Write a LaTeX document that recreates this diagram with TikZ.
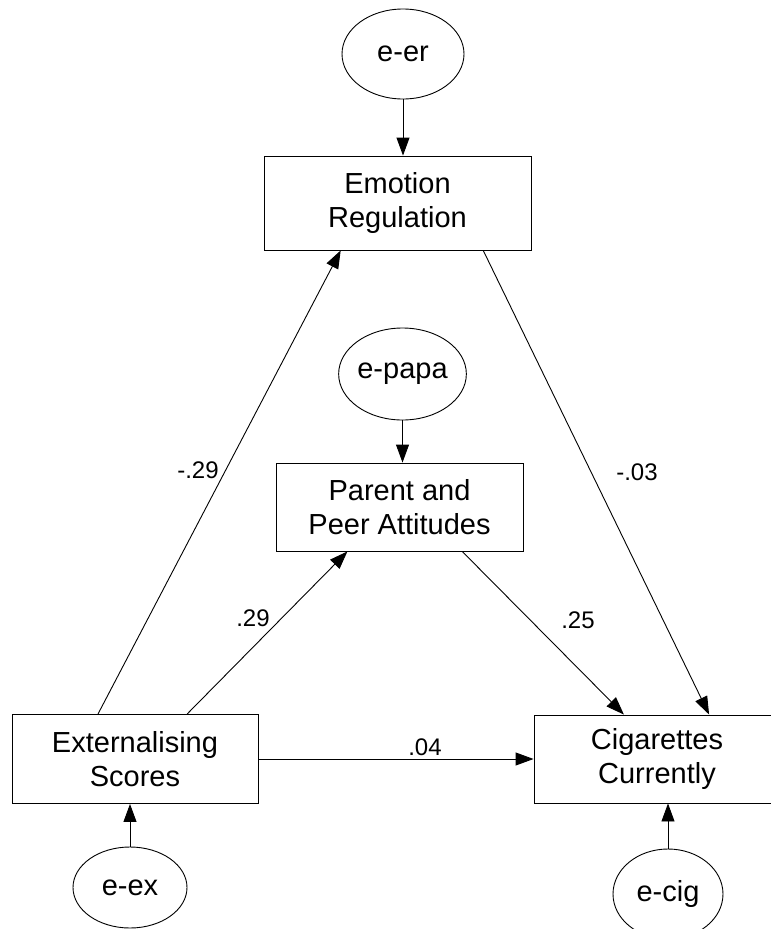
\documentclass[tikz,border=0pt]{standalone}
\usepackage{fontspec}
\setmainfont{Liberation Sans}
\usetikzlibrary{arrows.meta,calc,shapes.geometric}
\begin{document}
\begin{tikzpicture}[x=1pt,y=-1pt,
  every path/.style={line width=0.9pt},
  varbox/.style={draw, rectangle, align=center, inner sep=0pt,
    font=\fontsize{29}{34}\selectfont},
  errterm/.style={draw, ellipse, inner sep=0pt,
    font=\fontsize{29}{34}\selectfont},
  sempath/.style={-{Triangle[length=18pt,width=13pt]}},
  coef/.style={font=\fontsize{24}{28}\selectfont, inner sep=0pt}]
\useasboundingbox (0,0) rectangle (771,929);

% observed variables
\node[varbox, minimum width=267pt, minimum height=94pt] (er)  at (397.5,203)   {Emotion\\Regulation};
\node[varbox, minimum width=247pt, minimum height=88pt] (pa)  at (399.5,507)   {Parent and\\Peer Attitudes};
\node[varbox, minimum width=246pt, minimum height=89pt] (ext) at (135,759)     {Externalising\\Scores};
\node[varbox, minimum width=246pt, minimum height=88pt] (cig) at (657,759)     {Cigarettes\\Currently};

% error terms
\node[errterm, minimum width=122pt, minimum height=90pt] (eer)  at (403,54)   {e-er};
\node[errterm, minimum width=111pt, minimum height=92pt] (epa)  at (402.5,374) {e-papa};
\node[errterm, minimum width=114pt, minimum height=81pt] (eex)  at (130,887.5) {e-ex};
\node[errterm, minimum width=110pt, minimum height=90pt] (ecig) at (668,894)   {e-cig};

% error paths
\draw[sempath] (eer.south)  -- (eer.south |- er.north);
\draw[sempath] (epa.south)  -- (epa.south |- pa.north);
\draw[sempath] (eex.north)  -- (eex.north |- ext.south);
\draw[sempath] (ecig.north) -- (ecig.north |- cig.south);

% structural paths
\draw[sempath] ($(ext.north west)!0.35!(ext.north east)$) -- ($(er.south west)!0.288!(er.south east)$);
\draw[sempath] ($(ext.north west)!0.711!(ext.north east)$) -- ($(pa.south west)!0.29!(pa.south east)$);
\draw[sempath] (ext.east) -- (ext.east -| cig.west);
\draw[sempath] ($(pa.south west)!0.753!(pa.south east)$) -- ($(cig.north west)!0.366!(cig.north east)$);
\draw[sempath] ($(er.south west)!0.82!(er.south east)$) -- ($(cig.north west)!0.711!(cig.north east)$);

% coefficients
\node[coef] (c1) at (198,470) {-.29};
\node[coef] (c2) at (253,618) {.29};
\node[coef] (c3) at (425,747) {.04};
\node[coef] (c4) at (578,620) {.25};
\node[coef] (c5) at (637,472) {-.03};
\end{tikzpicture}
\end{document}
